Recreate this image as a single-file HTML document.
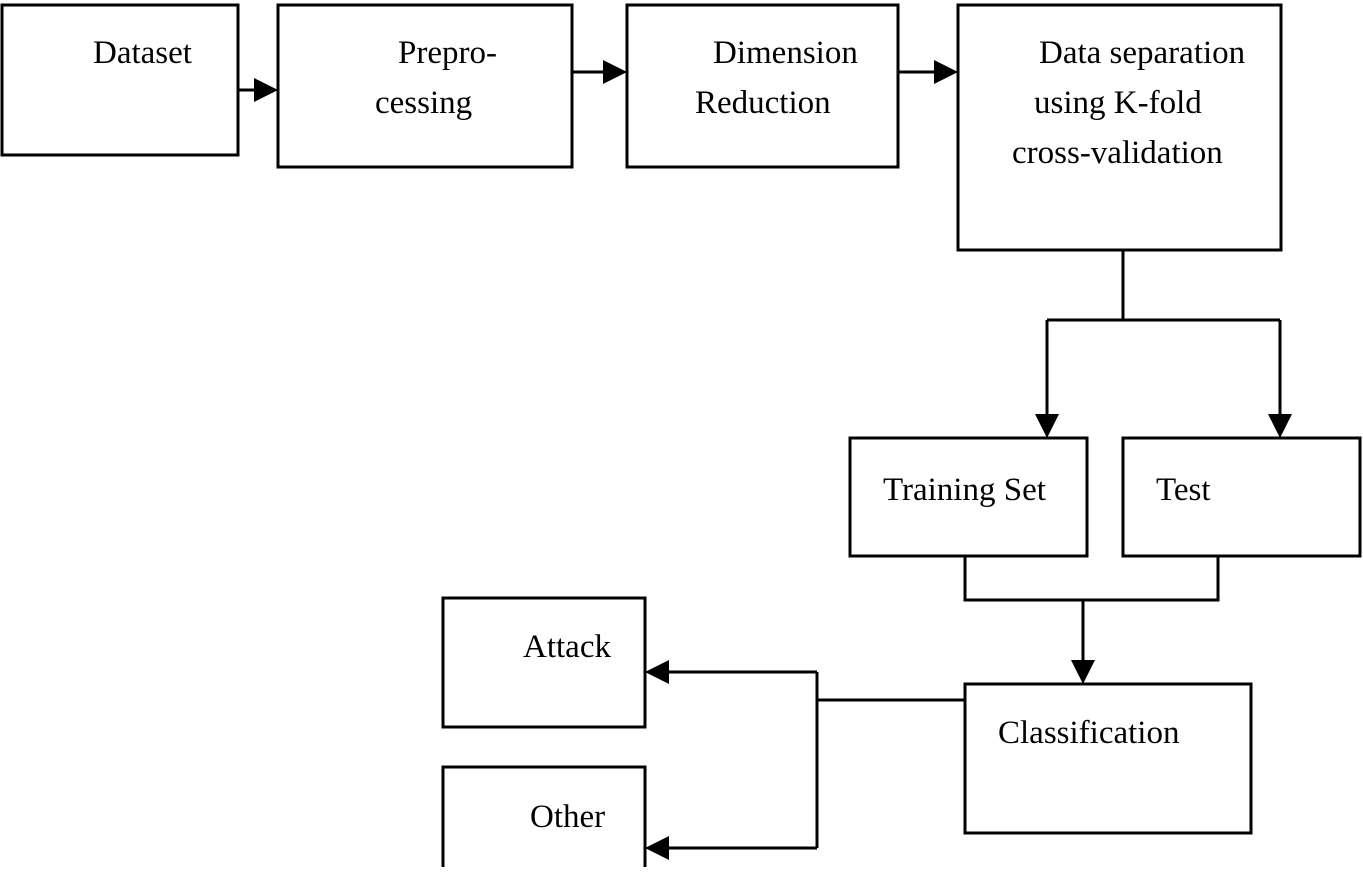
<!DOCTYPE html>
<html><head><style>
body{margin:0;background:#fff;width:1363px;height:867px;overflow:hidden}
svg text{font-family:"Liberation Serif",serif;font-size:33px;fill:#000}
</style></head><body>
<svg width="1363" height="867" xmlns="http://www.w3.org/2000/svg">
<g fill="none" stroke="#000" stroke-width="3">
<rect x="2" y="5" width="236" height="150"/>
<rect x="278" y="5" width="294" height="162"/>
<rect x="627" y="5" width="271" height="162"/>
<rect x="958" y="5" width="323" height="245"/>
<rect x="850" y="438" width="237" height="118"/>
<rect x="1123" y="438" width="237" height="118"/>
<rect x="443" y="598" width="202" height="129"/>
<rect x="443" y="767" width="202" height="110"/>
<rect x="965" y="684" width="286" height="149"/>
<path d="M238 90H256M572 72H605M898 72H935"/>
<path d="M1123 250V320M1047 320H1280M1047 320V416M1280 320V416"/>
<path d="M965 556V600H1218V556M1083 600V662"/>
<path d="M965 700H817M817 672V848M817 672H668M817 848H668"/>
</g>
<g fill="#000">
<path d="M278 90L254 78V102Z"/>
<path d="M627 72L603 60V84Z"/>
<path d="M958 72L934 60V84Z"/>
<path d="M1047 438L1035 414H1059Z"/>
<path d="M1280 438L1268 414H1292Z"/>
<path d="M1083 684L1071 660H1095Z"/>
<path d="M645 672L669 660V684Z"/>
<path d="M645 848L669 836V860Z"/>
</g>
<text x="93" y="63">Dataset</text>
<text x="398" y="63">Prepro-</text>
<text x="375" y="113">cessing</text>
<text x="713" y="63">Dimension</text>
<text x="695" y="113">Reduction</text>
<text x="1039" y="63">Data separation</text>
<text x="1034" y="113">using K-fold</text>
<text x="1012" y="163">cross-validation</text>
<text x="883" y="500">Training Set</text>
<text x="1156" y="500">Test</text>
<text x="523" y="657">Attack</text>
<text x="998" y="743">Classification</text>
<text x="530" y="827">Other</text>
</svg>
</body></html>
